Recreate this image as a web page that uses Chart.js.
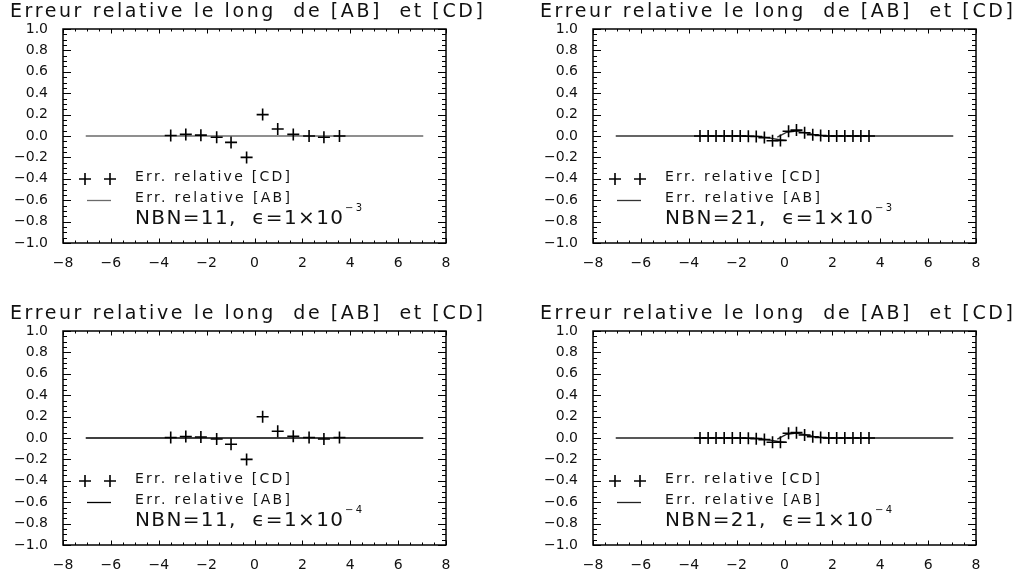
<!DOCTYPE html>
<html>
<head>
<meta charset="utf-8">
<script src="https://cdn.jsdelivr.net/npm/chart.js@4.4.0/dist/chart.umd.min.js"></script>
<style>
html, body { margin: 0; padding: 0; background: #fff; }
#wrap { position: relative; width: 1019px; height: 575px; overflow: hidden; background: #fff; }
#wrap canvas { position: absolute; }
</style>
</head>
<body>
<div id="wrap">
  <canvas id="p1" width="489" height="273" style="left:0px;top:0px"></canvas>
  <canvas id="p2" width="489" height="273" style="left:530px;top:0px"></canvas>
  <canvas id="p3" width="489" height="273" style="left:0px;top:302px"></canvas>
  <canvas id="p4" width="489" height="273" style="left:530px;top:302px"></canvas>
</div>
<script>
// DATA

const titleText = "Erreur relative le long  de [AB]  et [CD]";
const legendCD = "Err. relative [CD]";
const legendAB = "Err. relative [AB]";

const xTickValues = [-8, -6, -4, -2, 0, 2, 4, 6, 8];
const yTickValues = [-1.0, -0.8, -0.6, -0.4, -0.2, 0.0, 0.2, 0.4, 0.6, 0.8, 1.0];

// sample positions along [CD]
const xCD11 = [-3.5, -2.87, -2.24, -1.58, -0.98, -0.33, 0.34, 0.97, 1.62, 2.28, 2.9, 3.55];
const xCD21 = [-3.53, -3.19, -2.86, -2.52, -2.18, -1.85, -1.51, -1.18, -0.84, -0.5, -0.17,
               0.17, 0.5, 0.84, 1.18, 1.51, 1.85, 2.18, 2.52, 2.86, 3.19, 3.53];

// relative error on [CD]
const errCD11e3 = [0.005, 0.015, 0.008, -0.012, -0.06, -0.2, 0.2, 0.065, 0.015, 0.0, -0.012, 0.0];
const errCD11e4 = [0.004, 0.014, 0.009, -0.01, -0.058, -0.2, 0.198, 0.063, 0.016, 0.004, -0.01, 0.004];
const errCD21e3 = [0, 0, 0, 0, 0, 0, -0.002, -0.005, -0.015, -0.045, -0.042,
                   0.045, 0.055, 0.03, 0.012, 0.004, 0, 0, 0, 0, 0, 0];
const errCD21e4 = [0, 0, 0, 0, 0, 0, -0.002, -0.006, -0.015, -0.04, -0.04,
                   0.045, 0.05, 0.028, 0.012, 0.004, 0, 0, 0, 0, 0, 0];

// relative error on [AB] (NBN=11: flat)
const xAB11 = [-7.05, 7.05];
const errAB11 = [0, 0];

// NBN=21: drawn in two pieces, left and right of the centre
const xAB21Left = [-7.05, -1.6, -1.1, -0.6, -0.2, 0.1];
const errAB21Left = [0, 0, -0.003, -0.02, -0.035, -0.04];
const xAB21Right = [-0.3, 0.1, 0.5, 0.9, 1.3, 1.7, 7.05];
const errAB21Right = [-0.01, 0.035, 0.045, 0.03, 0.01, 0, 0];

const nbnValues = [11, 21, 11, 21];
const epsExponents = ["−3", "−3", "−4", "−4"];

// HELPERS

const FONT = "'DejaVu Sans', 'Liberation Sans', sans-serif";

const toPoints = (xs, ys) => xs.map((x, i) => ({ x: x, y: ys[i] }));

// draw text stretched to a given width via letter spacing
function spreadText(ctx, text, x, y, width) {
    ctx.letterSpacing = "0px";
    const w = ctx.measureText(text).width;
    const n = [...text].length;
    const ls = n > 1 ? (width - w) / (n - 1) : 0;
    ctx.letterSpacing = ls.toFixed(2) + "px";
    ctx.fillText(text, x, y);
    ctx.letterSpacing = "0px";
}

// FRAME WITH INWARD TICKS

const framePlugin = {
    id: "frame",
    afterDatasetsDraw(chart) {
        const { ctx, chartArea: a } = chart;
        const xs = chart.scales.x;
        const ys = chart.scales.y;
        ctx.save();
        ctx.strokeStyle = "#000";
        ctx.lineWidth = 1;
        ctx.beginPath();

        // x: major every 2, 3 minor ticks in between
        const xMinor = 4 * (xTickValues.length - 1);
        for (let i = 0; i <= xMinor; i++) {
            const v = xs.min + i * (xs.max - xs.min) / xMinor;
            const px = Math.round(xs.getPixelForValue(v)) + 0.5;
            const len = i % 4 === 0 ? 4.5 : 2.5;
            ctx.moveTo(px, a.bottom); ctx.lineTo(px, a.bottom - len);
            ctx.moveTo(px, a.top); ctx.lineTo(px, a.top + len);
        }

        // y: major every 0.2, 3 minor ticks in between
        const yMinor = 4 * (yTickValues.length - 1);
        for (let i = 0; i <= yMinor; i++) {
            const v = ys.min + i * (ys.max - ys.min) / yMinor;
            const py = Math.round(ys.getPixelForValue(v)) + 0.5;
            const len = i % 4 === 0 ? 8 : 4;
            ctx.moveTo(a.left, py); ctx.lineTo(a.left + len, py);
            ctx.moveTo(a.right, py); ctx.lineTo(a.right - len, py);
        }
        ctx.stroke();

        ctx.lineWidth = 1.5;
        ctx.strokeRect(a.left, a.top, a.right - a.left, a.bottom - a.top);
        ctx.restore();
    }
};

// TITLE AND LEGEND

const notesPlugin = {
    id: "notes",
    afterDraw(chart, args, opts) {
        const ctx = chart.ctx;
        ctx.save();
        ctx.fillStyle = "#111";
        ctx.textBaseline = "alphabetic";
        ctx.textAlign = "left";

        ctx.font = "19px " + FONT;
        spreadText(ctx, titleText, 10, 17, 473);

        // "+ +" symbol and line sample
        ctx.strokeStyle = "#000";
        ctx.lineWidth = 1.6;
        const cross = { pointStyle: "cross", radius: 6, borderWidth: 1.6, rotation: 0 };
        Chart.helpers.drawPoint(ctx, cross, 85, 179);
        Chart.helpers.drawPoint(ctx, cross, 110, 179);

        ctx.strokeStyle = opts.lineColor;
        ctx.lineWidth = 1.3;
        ctx.beginPath();
        ctx.moveTo(87, 200.5);
        ctx.lineTo(111, 200.5);
        ctx.stroke();

        ctx.font = "14px " + FONT;
        spreadText(ctx, legendCD, 135, 180.5, 155);
        spreadText(ctx, legendAB, 135, 201.5, 155);

        ctx.font = "20px " + FONT;
        spreadText(ctx, "NBN=" + opts.nbn + ",  ϵ=1×10", 135, 224, 208);
        ctx.font = "10px " + FONT;
        spreadText(ctx, opts.exp, 345, 211, 17);

        ctx.restore();
    }
};

// CHARTS

function makePanel(id, cdX, cdY, abPieces, lineColor, idx) {
    const datasets = [{
        label: legendCD,
        data: toPoints(cdX, cdY),
        showLine: false,
        pointStyle: "cross",
        pointRadius: 6,
        pointBorderWidth: 1.6,
        pointBorderColor: "#000",
        borderColor: "#000"
    }];
    abPieces.forEach(piece => {
        datasets.push({
            label: legendAB,
            data: toPoints(piece[0], piece[1]),
            showLine: true,
            pointRadius: 0,
            borderColor: lineColor,
            borderWidth: 1.3,
            tension: 0
        });
    });

    new Chart(document.getElementById(id), {
        type: "scatter",
        data: { datasets: datasets },
        options: {
            responsive: false,
            animation: false,
            devicePixelRatio: 1,
            layout: { padding: { left: 0, top: 29, right: 43, bottom: 0 } },
            scales: {
                x: {
                    type: "linear",
                    min: -8,
                    max: 8,
                    afterBuildTicks: s => { s.ticks = xTickValues.map(v => ({ value: v })); },
                    afterFit: s => { s.height = 30; },
                    grid: { display: false },
                    border: { display: false },
                    ticks: {
                        color: "#111",
                        padding: 4,
                        maxRotation: 0,
                        font: { family: FONT, size: 14 },
                        callback: v => String(v).replace("-", "−")
                    }
                },
                y: {
                    type: "linear",
                    min: -1,
                    max: 1,
                    afterBuildTicks: s => { s.ticks = yTickValues.map(v => ({ value: v })); },
                    afterFit: s => { s.width = 63; },
                    grid: { display: false },
                    border: { display: false },
                    ticks: {
                        color: "#111",
                        padding: 7,
                        font: { family: FONT, size: 14 },
                        callback: v => (Math.abs(v) < 1e-9 ? "0.0" : v.toFixed(1)).replace("-", "−")
                    }
                }
            },
            plugins: {
                legend: { display: false },
                tooltip: { enabled: false },
                notes: { nbn: nbnValues[idx], exp: epsExponents[idx], lineColor: lineColor }
            }
        },
        plugins: [framePlugin, notesPlugin]
    });
}

makePanel("p1", xCD11, errCD11e3, [[xAB11, errAB11]], "#6a6a6a", 0);
makePanel("p2", xCD21, errCD21e3, [[xAB21Left, errAB21Left], [xAB21Right, errAB21Right]], "#333", 1);
makePanel("p3", xCD11, errCD11e4, [[xAB11, errAB11]], "#000", 2);
makePanel("p4", xCD21, errCD21e4, [[xAB21Left, errAB21Left], [xAB21Right, errAB21Right]], "#222", 3);
</script>
</body>
</html>
